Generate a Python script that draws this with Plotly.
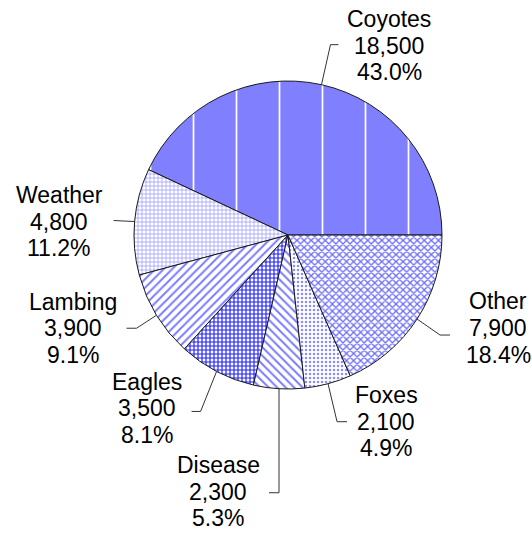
import math
import plotly.graph_objects as go

# ---- data ----
labels = ["Coyotes", "Weather", "Lambing", "Eagles", "Disease", "Foxes", "Other"]
values = [18500, 4800, 3900, 3500, 2300, 2100, 7900]

# ---- style / layout ----
W, H = 532, 534
CX, CY, R = 288, 235, 154          # pie centre and radius (px)
FONT = "Liberation Sans, Arial, sans-serif"
FSIZE = 23
LINE = 26.7                        # label line pitch (px)

pattern_shape = ["|", "+", "/", "+", "\\", ".", "x"]
pattern_fg = ["#ffffff", "#8c8cff", "#7a7aff", "#2020ff", "#7a7aff", "#8c8cff", "#6a6aff"]
pattern_bg = ["#8080ff", "#ffffff", "#ffffff", "#ffffff", "#ffffff", "#ffffff", "#ffffff"]
pattern_size = [43, 4, 6, 4, 6, 4, 5]
pattern_solid = [0.04, 0.3, 0.32, 0.5, 0.32, 0.3, 0.45]

# leader style: elbow offset from slice edge, horizontal tail, text-centre offset from tail end
LEADER = {
    "Coyotes": ((9, -40), 8, (51, 1)),
    "Weather": ((-21, -1), 0, (-54.5, 1)),
    "Lambing": ((-20, 13), -10, (-54, 0)),
    "Eagles": ((-16, 40), -9, (-45, -3)),
    "Disease": ((0, 104), -10, (-51, -1)),
    "Foxes": ((9, 38), 10, (39, 0)),
    "Other": ((23, 16), 10, (48, -7)),
}


def px(x):
    return x / W


def py(y):
    return 1 - y / H


total = sum(values)
# first slice starts at 3 o'clock and runs counter-clockwise
rotation = 90 - 360 * values[0] / total

fig = go.Figure()
fig.add_trace(go.Pie(
    labels=labels,
    values=values,
    sort=False,
    direction="counterclockwise",
    rotation=rotation,
    textinfo="none",
    hoverinfo="label+value+percent",
    showlegend=False,
    domain=dict(x=[(CX - R) / W, (CX + R) / W], y=[1 - (CY + R) / H, 1 - (CY - R) / H]),
    marker=dict(
        colors=pattern_bg,
        line=dict(color="#1a1a1a", width=1),
        pattern=dict(shape=pattern_shape, fgcolor=pattern_fg, bgcolor=pattern_bg,
                     size=pattern_size, solidity=pattern_solid, fillmode="replace"),
    ),
))

shapes = []
annotations = []
cum = 0.0
for lab, val in zip(labels, values):
    frac = val / total
    mid = (cum + frac / 2) * 2 * math.pi
    cum += frac
    ex = CX + R * math.cos(mid)
    ey = CY - R * math.sin(mid)
    (dx, dy), tail, (tx, ty) = LEADER[lab]
    bx, by = ex + dx, ey + dy
    tx_end, ty_end = bx + tail, by
    shapes.append(dict(type="line", xref="paper", yref="paper",
                       x0=px(ex), y0=py(ey), x1=px(bx), y1=py(by),
                       line=dict(color="#333333", width=1)))
    if tail:
        shapes.append(dict(type="line", xref="paper", yref="paper",
                           x0=px(bx), y0=py(by), x1=px(tx_end), y1=py(ty_end),
                           line=dict(color="#333333", width=1)))
    cx_t, cy_t = tx_end + tx, ty_end + ty
    lines = [lab, f"{val:,}", f"{val / total * 100:.1f}%"]
    for i, t in enumerate(lines):
        yc = cy_t + (i - 1) * LINE
        annotations.append(dict(
            text=t, xref="paper", yref="paper",
            x=px(cx_t), y=py(yc),
            xanchor="center", yanchor="middle", showarrow=False,
            font=dict(family=FONT, size=FSIZE, color="#000000"),
        ))

fig.update_layout(
    width=W, height=H,
    margin=dict(l=0, r=0, t=0, b=0),
    paper_bgcolor="white", plot_bgcolor="white",
    shapes=shapes, annotations=annotations,
)

fig.write_html("out.html", config={"displayModeBar": False},
               post_script="document.body.style.margin='0';document.body.style.overflow='hidden';")
